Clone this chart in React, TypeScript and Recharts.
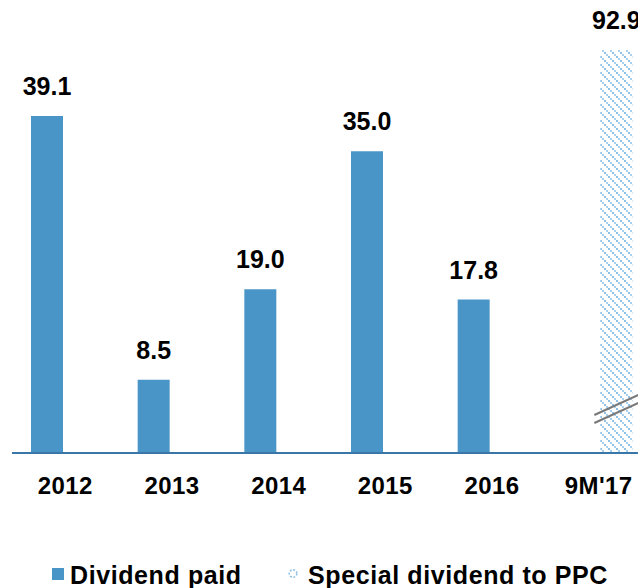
import { BarChart, Bar, XAxis, YAxis, Legend, LabelList } from "recharts"

const PERIODS = ["2012", "2013", "2014", "2015", "2016", "9M'17"]
const DIVIDEND_PAID = [39.1, 8.5, 19.0, 35.0, 17.8, null]
const SPECIAL_DIVIDEND = [null, null, null, null, null, 92.9]

// axis is broken: the special dividend bar overflows the top of the plot
const Y_MAX = 46.75
const PLOT_TOP = 50

const BLUE = "#4a95c7"
const AXIS_BLUE = "#3a76a8"
const FONT = "'Liberation Sans', Arial, sans-serif"

const data = PERIODS.map((period, i) => ({
  period,
  paid: DIVIDEND_PAID[i],
  special: SPECIAL_DIVIDEND[i],
}))

function HatchDefs({ id }: { id: string }) {
  return (
    <defs>
      <pattern id={id} width={8} height={8} patternUnits="userSpaceOnUse">
        <rect x={0} y={0} width={2} height={2} fill="#8fc0e6" />
        <rect x={2} y={2} width={2} height={2} fill="#a9cfee" />
        <rect x={4} y={4} width={2} height={2} fill="#8fc0e6" />
        <rect x={6} y={6} width={2} height={2} fill="#a9cfee" />
      </pattern>
    </defs>
  )
}

function HatchedBar(props: any) {
  const { x, y, width, height } = props
  if (!height) return null
  const bottom = y + height
  return (
    <g>
      <HatchDefs id="hatch" />
      <rect x={x} y={y} width={width} height={height} fill="url(#hatch)" />
      <line x1={x - 6} y1={bottom - 38} x2={x + width + 6} y2={bottom - 58} stroke="#7a7a7a" strokeWidth={2.2} />
      <line x1={x - 6} y1={bottom - 30} x2={x + width + 6} y2={bottom - 50} stroke="#7a7a7a" strokeWidth={2.2} />
    </g>
  )
}

function renderValue(props: any) {
  const vb = props.viewBox ?? props
  const { value } = props
  if (value == null) return null
  const top = Math.max(Number(vb.y), PLOT_TOP)
  return (
    <text
      x={vb.x + vb.width / 2}
      y={top - 21}
      textAnchor="middle"
      fontFamily={FONT}
      fontSize={25}
      fontWeight="bold"
      fill="#000"
    >
      {Number(value).toFixed(1)}
    </text>
  )
}

function PeriodTick(props: any) {
  const { x, y, payload } = props
  return (
    <text x={x} y={y + 41} textAnchor="middle" fontFamily={FONT} fontSize={24} fontWeight="bold" letterSpacing={0.4} fill="#000">
      {payload.value}
    </text>
  )
}

function LegendContent() {
  return (
    <div
      style={{
        position: "relative",
        height: 26,
        width: 638,
        fontFamily: FONT,
        fontWeight: "bold",
        fontSize: 25,
        lineHeight: "26px",
        color: "#000",
        whiteSpace: "nowrap",
      }}
    >
      <span style={{ position: "absolute", left: 52, top: 6, width: 12, height: 12, background: BLUE }} />
      <span style={{ position: "absolute", left: 70, top: 0, letterSpacing: 0.6 }}>Dividend paid</span>
      <svg style={{ position: "absolute", left: 288, top: 5 }} width={10} height={13}>
        <circle cx={5} cy={6.5} r={3.8} fill="none" stroke="#8fc0e6" strokeWidth={1.6} strokeDasharray="2 1.5" />
      </svg>
      <span style={{ position: "absolute", left: 308, top: 0, letterSpacing: 0.6 }}>Special dividend to PPC</span>
    </div>
  )
}

export default function App() {
  return (
    <div style={{ position: "absolute", left: 0, top: 0, width: 638, height: 588, overflow: "hidden", background: "#fff" }}>
      <BarChart
        width={652}
        height={588}
        data={data}
        margin={{ top: PLOT_TOP, right: 0, left: 12, bottom: 0 }}
        barSize={32}
        barGap={4}
      >
        <XAxis
          dataKey="period"
          height={109}
          tickLine={false}
          tickSize={0}
          tickMargin={0}
          interval={0}
          axisLine={{ stroke: AXIS_BLUE, strokeWidth: 2 }}
          tick={<PeriodTick />}
        />
        <YAxis hide domain={[0, Y_MAX]} allowDataOverflow />
        <Legend verticalAlign="bottom" content={<LegendContent />} wrapperStyle={{ left: 0, bottom: 0, width: 638 }} />
        <Bar dataKey="paid" name="Dividend paid" fill={BLUE} isAnimationActive={false}>
          <LabelList dataKey="paid" content={renderValue} />
        </Bar>
        <Bar dataKey="special" name="Special dividend to PPC" fill="#a9cfee" shape={<HatchedBar />} isAnimationActive={false}>
          <LabelList dataKey="special" content={renderValue} />
        </Bar>
      </BarChart>
    </div>
  )
}
